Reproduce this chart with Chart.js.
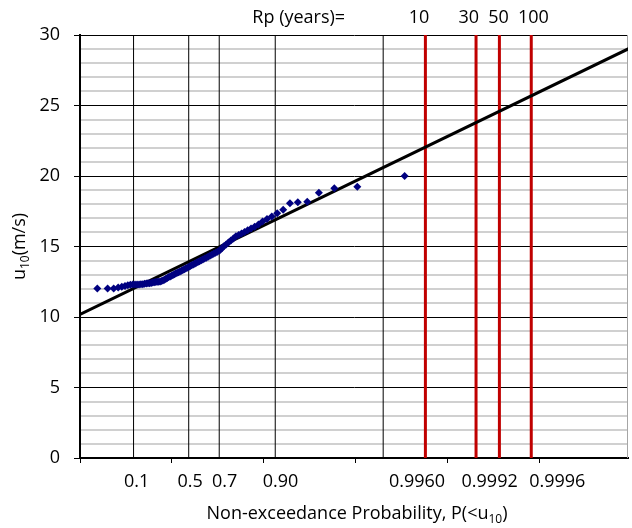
<!DOCTYPE html>
<html><head><meta charset="utf-8">
<script src="https://cdn.jsdelivr.net/npm/chart.js@4.4.1/dist/chart.umd.min.js"></script>
<style>html,body{margin:0;padding:0;background:#fff;}#wrap{width:632px;height:528px;}</style>
</head><body><div id="wrap"><canvas id="c" width="632" height="528"></canvas></div>
<script>
// Gumbel reduced variate of each ranked observation (x) and wind speed u10 (m/s)
const reducedVariate = [
  -1.623,-1.398,-1.267,-1.169,-1.090,-1.020,-0.959,-0.903,-0.851,-0.803,
  -0.758,-0.714,-0.673,-0.633,-0.594,-0.557,-0.521,-0.485,-0.450,-0.416,
  -0.383,-0.350,-0.318,-0.286,-0.254,-0.222,-0.191,-0.160,-0.129,-0.099,
  -0.068,-0.037,-0.007,0.024,0.054,0.085,0.115,0.146,0.177,0.208,
  0.239,0.271,0.302,0.334,0.367,0.399,0.432,0.465,0.499,0.533,
  0.568,0.603,0.639,0.675,0.712,0.750,0.788,0.827,0.868,0.909,
  0.951,0.994,1.039,1.085,1.132,1.181,1.231,1.284,1.339,1.395,
  1.455,1.517,1.582,1.651,1.724,1.802,1.885,1.974,2.071,2.176,
  2.293,2.423,2.571,2.742,2.947,3.200,3.536,4.037,5.067
];
const windSpeed = [
  12.03,12.03,12.03,12.10,12.15,12.20,12.25,12.28,12.30,12.30,
  12.30,12.30,12.32,12.33,12.35,12.37,12.40,12.40,12.42,12.45,
  12.46,12.48,12.50,12.50,12.52,12.56,12.60,12.65,12.71,12.77,
  12.83,12.88,12.93,12.98,13.03,13.08,13.13,13.18,13.23,13.28,
  13.33,13.39,13.44,13.50,13.55,13.61,13.67,13.72,13.78,13.84,
  13.90,13.96,14.02,14.08,14.15,14.21,14.27,14.34,14.41,14.48,
  14.55,14.62,14.72,14.85,15.02,15.15,15.28,15.42,15.56,15.72,
  15.82,15.93,16.03,16.15,16.27,16.40,16.56,16.77,16.95,17.12,
  17.35,17.60,18.06,18.13,18.18,18.82,19.13,19.24,20.00
];
// fitted Gumbel line (end points)
const fitLineX = [-2, 10];
const fitLineU = [10.19, 29.12];
// probability grid lines and return-period lines
const probGridP = [0.1, 0.5, 0.7, 0.9, 0.99];
const returnPeriodP = [0.996, 0.99867, 0.9992, 0.9996];
const returnPeriodLabels = ['10', '30', '50', '100'];
const returnPeriodLabelAt = [5.381, 6.463, 7.112, 7.870];
const rpTitle = 'Rp (years)=';
const rpTitleAt = 2.762;
const probTickLabels = ['0.1', '0.5', '0.7', '0.90', '0.9960', '0.9992', '0.9996'];
const probTickLabelAt = [-0.766, 0.398, 1.149, 2.366, 5.338, 6.918, 8.390];
const xRange = [-2, 9.93];
const yRange = [0, 30];

const gumbel = p => -Math.log(-Math.log(p));
const FONT = '"Open Sans", sans-serif';
const FS = 18, SFS = 12;

const datasets = [];
datasets.push({
  label: 'observed', data: reducedVariate.map((x, i) => ({x, y: windSpeed[i]})),
  pointStyle: 'rectRot', pointRadius: 4, pointBackgroundColor: '#000080',
  pointBorderColor: '#000080', pointBorderWidth: 0, showLine: false, order: 0
});
datasets.push({
  label: 'fit', data: fitLineX.map((x, i) => ({x, y: fitLineU[i]})),
  showLine: true, borderColor: '#000', borderWidth: 3, pointRadius: 0, order: 1
});
returnPeriodP.forEach(p => datasets.push({
  label: 'rp', data: [{x: gumbel(p), y: yRange[0]}, {x: gumbel(p), y: yRange[1]}],
  showLine: true, borderColor: '#c00000', borderWidth: 3, pointRadius: 0, order: 2
}));
probGridP.forEach(p => datasets.push({
  label: 'pg', data: [{x: gumbel(p), y: yRange[0]}, {x: gumbel(p), y: yRange[1]}],
  showLine: true, borderColor: '#000', borderWidth: 1, pointRadius: 0, order: 3
}));

function drawRich(ctx, parts, cx, baseY) {
  let total = 0;
  parts.forEach(p => { ctx.font = (p.sub ? SFS : FS) + 'px ' + FONT; p.w = ctx.measureText(p.t).width; total += p.w; });
  let x = cx - total / 2;
  parts.forEach(p => {
    ctx.font = (p.sub ? SFS : FS) + 'px ' + FONT;
    ctx.fillText(p.t, x, baseY + (p.sub ? 4 : 0));
    x += p.w;
  });
}

const annot = {
  id: 'annot',
  beforeDatasetsDraw(chart) {
    const {ctx, chartArea} = chart;
    ctx.save();
    ctx.strokeStyle = '#a6a6a6'; ctx.lineWidth = 1;
    ctx.beginPath(); ctx.moveTo(chartArea.right - 0.5, chartArea.top); ctx.lineTo(chartArea.right - 0.5, chartArea.bottom); ctx.stroke();
    ctx.restore();
  },
  afterDraw(chart) {
    const {ctx, chartArea} = chart;
    const xs = chart.scales.x;
    ctx.save();
    ctx.fillStyle = '#000';
    ctx.textAlign = 'center';
    ctx.textBaseline = 'alphabetic';
    ctx.font = FS + 'px ' + FONT;
    probTickLabels.forEach((t, i) => ctx.fillText(t, xs.getPixelForValue(probTickLabelAt[i]), 487));
    ctx.fillText(rpTitle, xs.getPixelForValue(rpTitleAt), 23);
    returnPeriodLabels.forEach((t, i) => ctx.fillText(t, xs.getPixelForValue(returnPeriodLabelAt[i]), 23));
    ctx.textAlign = 'left';
    drawRich(ctx, [{t: 'Non-exceedance Probability, P(<u'}, {t: '10', sub: true}, {t: ')'}], 357, 519);
    ctx.save();
    ctx.translate(25, (chartArea.top + chartArea.bottom) / 2);
    ctx.rotate(-Math.PI / 2);
    drawRich(ctx, [{t: 'u'}, {t: '10', sub: true}, {t: '(m/s)'}], 0, 0);
    ctx.restore();
    ctx.restore();
  }
};

new Chart(document.getElementById('c'), {
  type: 'scatter',
  data: {datasets},
  plugins: [annot],
  options: {
    responsive: false, animation: false, devicePixelRatio: 1,
    layout: {padding: {left: 0, right: 1, top: 35, bottom: 0}},
    plugins: {legend: {display: false}, tooltip: {enabled: false}},
    scales: {
      x: {
        type: 'linear', min: xRange[0], max: xRange[1],
        ticks: {stepSize: 2, includeBounds: false, callback: () => '', font: {family: FONT, size: FS}},
        grid: {drawOnChartArea: false, drawTicks: true, tickLength: 5, color: '#000', lineWidth: 1},
        border: {display: true, color: '#000', width: 2},
        afterFit: s => { s.height = 70; }
      },
      y: {
        type: 'linear', min: yRange[0], max: yRange[1],
        ticks: {stepSize: 1, autoSkip: false, padding: 14, color: '#000',
          font: {family: FONT, size: FS},
          callback: v => (v % 5 === 0 ? String(v) : '')},
        grid: {
          color: c => (c.tick && c.tick.value % 5 === 0 ? '#000' : '#d0d0d0'),
          lineWidth: c => (c.tick && c.tick.value % 5 === 0 ? 1 : 2),
          tickColor: c => (c.tick && c.tick.value % 5 === 0 ? '#000' : 'rgba(0,0,0,0)'),
          tickLength: 6, drawTicks: true
        },
        border: {display: true, color: '#000', width: 2},
        afterFit: s => { s.width = 80; }
      }
    }
  }
});
</script></body></html>
